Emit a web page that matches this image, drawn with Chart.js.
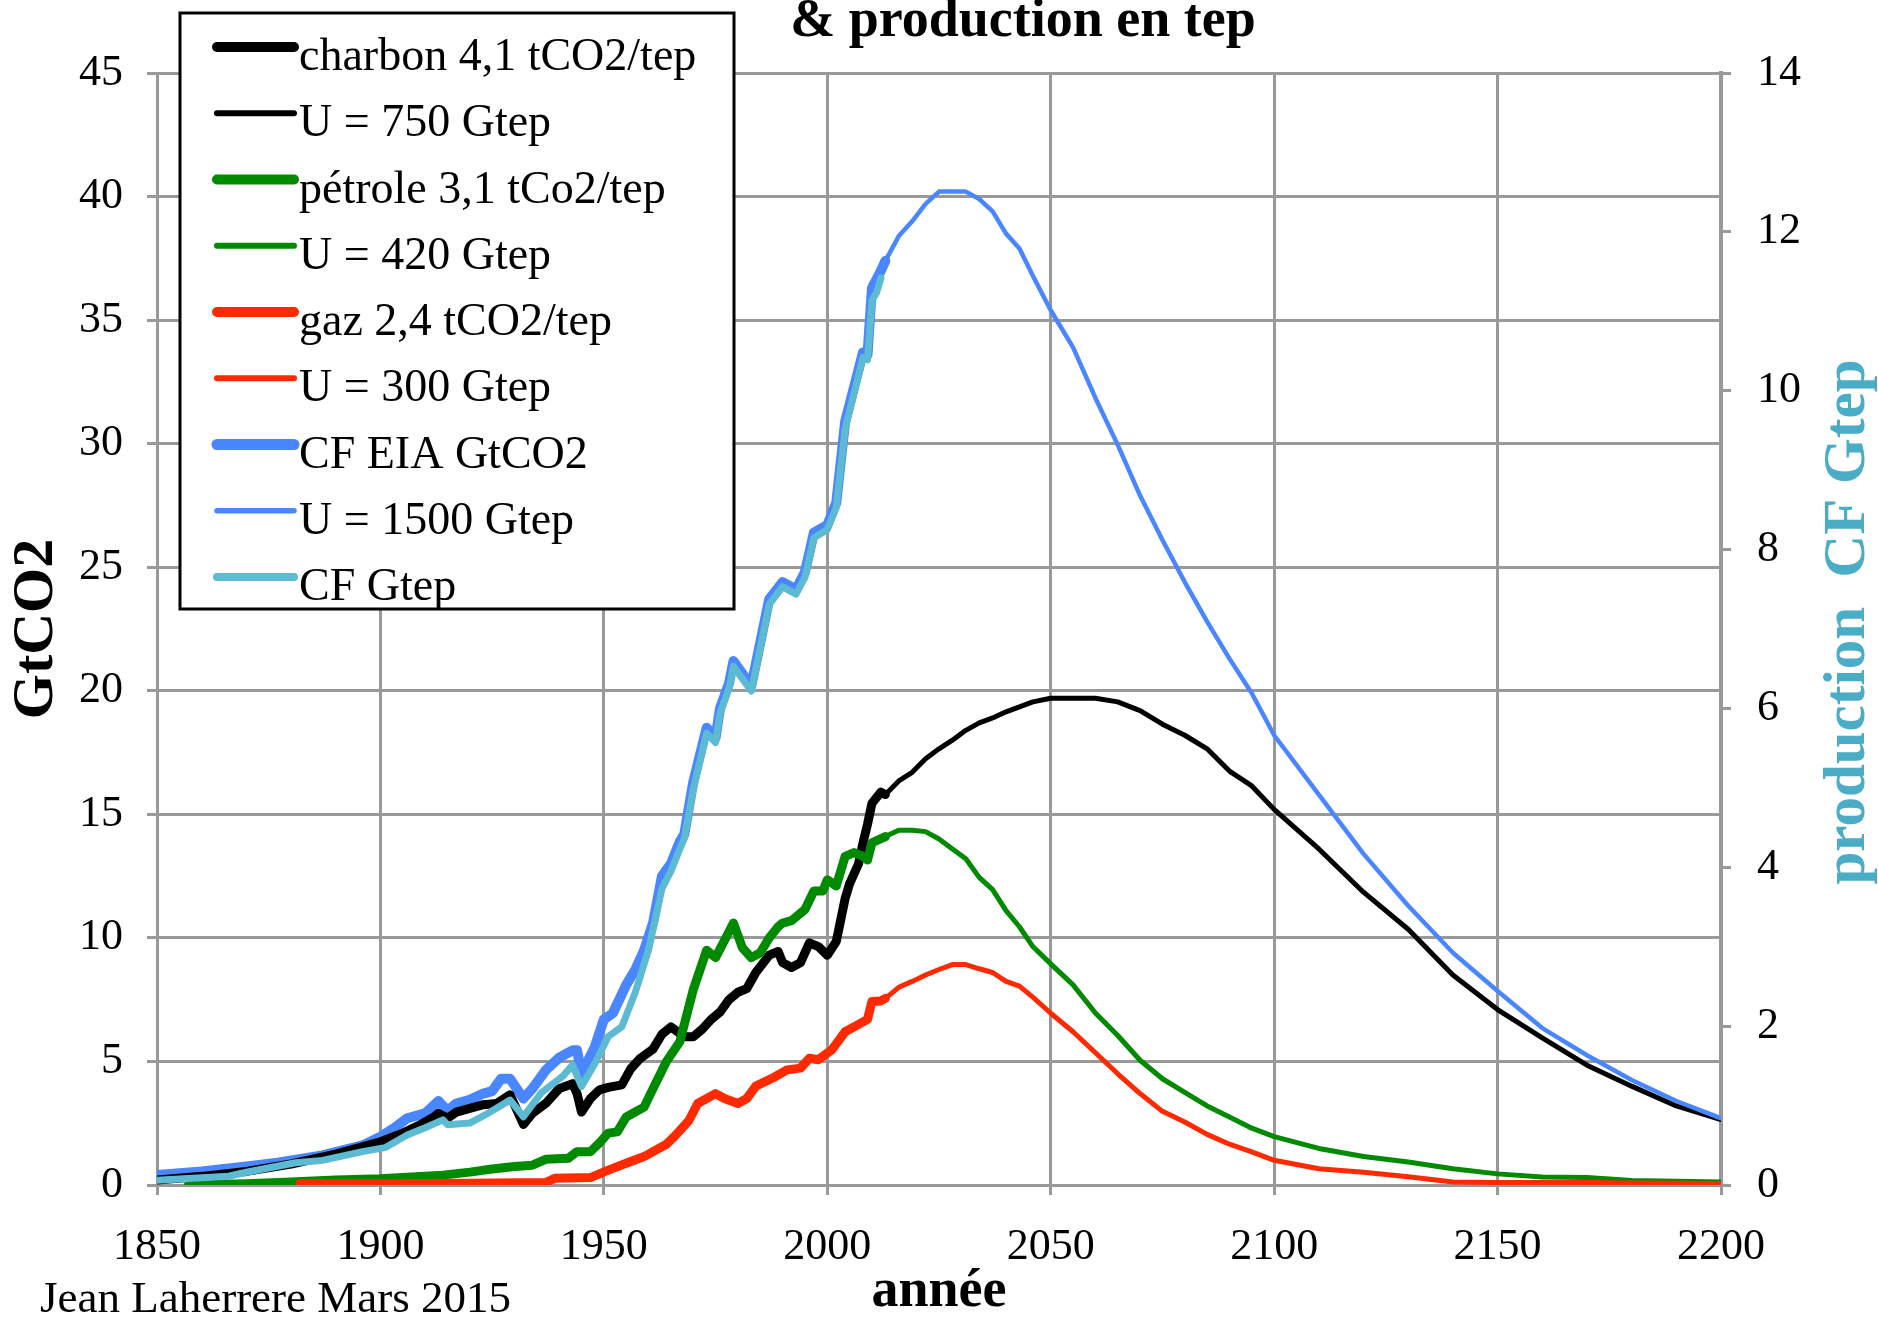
<!DOCTYPE html>
<html>
<head>
<meta charset="utf-8">
<script src="https://cdn.jsdelivr.net/npm/chart.js@4.4.1/dist/chart.umd.min.js"></script>
<style>
  html, body { margin: 0; padding: 0; background: #fff; }
  #wrap { width: 1878px; height: 1319px; }
</style>
</head>
<body>
<div id="wrap"><canvas id="mycanvas" width="1878" height="1319"></canvas></div>
<script>
// values (GtCO2 on the left axis, Gtep on the right one)
var coalYears  = [1850,1860,1870,1880,1890,1900,1905,1909,1912,1913,1915,1917,1920,1923,1926,1929,1932,1934,1937,1940,1943,1944,1945,1947,1949,1951,1954,1956,1958,1961,1963,1965,1968,1970,1972,1974,1976,1978,1980,1982,1984,1987,1989,1990,1992,1994,1996,1998,2000,2002,2004,2005,2007,2008,2009,2010,2012,2013];
var coalValues = [0.2,0.35,0.55,0.85,1.25,1.75,2.1,2.45,2.75,2.9,2.7,2.95,3.1,3.25,3.3,3.65,2.45,2.9,3.3,3.9,4.1,3.7,2.95,3.5,3.85,3.95,4.05,4.7,5.1,5.5,6.1,6.4,6.0,6.0,6.3,6.7,7.0,7.5,7.8,7.95,8.6,9.3,9.45,9.0,8.8,9.0,9.8,9.65,9.3,9.85,11.6,12.2,13.0,13.85,14.6,15.45,15.9,15.8];

var oilYears  = [1857,1870,1880,1890,1900,1910,1914,1920,1925,1930,1934,1937,1942,1944,1947,1949,1951,1953,1955,1959,1961,1964,1967,1970,1973,1975,1977,1979,1981,1983,1985,1987,1989,1990,1992,1995,1997,1999,2000,2002,2004,2006,2008,2009,2010,2013];
var oilValues = [0.0,0.05,0.12,0.2,0.25,0.35,0.4,0.52,0.65,0.75,0.8,1.04,1.08,1.35,1.35,1.7,2.1,2.15,2.75,3.15,3.9,5.0,5.8,7.9,9.5,9.2,9.9,10.6,9.6,9.2,9.4,10.0,10.45,10.6,10.7,11.15,11.9,11.9,12.35,12.1,13.3,13.45,13.3,13.15,13.85,14.1];

var gasYears  = [1882,1900,1920,1937,1939,1947,1951,1955,1959,1964,1966,1969,1971,1975,1977,1980,1982,1984,1988,1991,1994,1996,1998,2001,2004,2007,2009,2010,2012,2013];
var gasValues = [0.05,0.05,0.07,0.1,0.27,0.3,0.6,0.88,1.15,1.65,2.0,2.6,3.3,3.7,3.5,3.3,3.5,4.0,4.35,4.66,4.73,5.13,5.07,5.47,6.2,6.5,6.7,7.43,7.45,7.55];

var eiaYears  = [1850,1860,1870,1877,1887,1896,1900,1903,1906,1910,1913,1915,1917,1920,1923,1925,1927,1929,1932,1934,1937,1940,1943,1944,1945,1948,1950,1952,1955,1957,1959,1961,1963,1965,1967,1968,1970,1973,1975,1976,1978,1979,1983,1987,1990,1993,1995,1997,2000,2002,2004,2005,2008,2009,2010,2012,2013];
var eiaValues = [0.4,0.55,0.75,0.9,1.2,1.6,1.95,2.3,2.7,2.9,3.4,3.0,3.3,3.45,3.7,3.8,4.3,4.3,3.5,3.9,4.65,5.15,5.45,5.45,4.5,5.6,6.7,6.95,8.1,8.7,9.5,10.6,12.5,13.0,13.9,14.2,16.3,18.5,18.1,19.3,20.3,21.2,20.2,23.7,24.4,24.1,24.8,26.4,26.7,27.6,30.9,31.6,33.7,33.6,36.3,37.0,37.4];

// production, Gtep (right axis)
var cfYears  = [1850,1860,1866,1870,1881,1887,1896,1901,1906,1910,1914,1915,1920,1924,1927,1929,1932,1936,1941,1943,1945,1948,1951,1954,1957,1960,1963,1965,1967,1968,1970,1973,1975,1976,1978,1979,1983,1987,1990,1993,1995,1997,2000,2002,2004,2005,2008,2009,2010,2011,2012];
var cfValues = [0.06,0.09,0.11,0.16,0.28,0.31,0.42,0.47,0.63,0.72,0.82,0.76,0.78,0.90,1.00,1.07,0.86,1.16,1.38,1.51,1.24,1.53,1.87,1.99,2.42,2.96,3.73,3.95,4.23,4.36,4.98,5.69,5.57,5.94,6.25,6.53,6.22,7.31,7.53,7.44,7.65,8.15,8.25,8.53,9.52,9.74,10.42,10.39,11.14,11.23,11.42];

// forecasts
var futureYears = [2013,2016,2019,2022,2025,2028,2031,2034,2037,2040,2043,2046,2050,2055,2060,2065,2070,2075,2080,2085,2090,2095,2100,2110,2120,2130,2140,2150,2160,2170,2180,2190,2200];
var coalU750   = [15.8,16.35,16.7,17.25,17.65,18.0,18.4,18.7,18.9,19.15,19.35,19.55,19.7,19.7,19.7,19.55,19.2,18.65,18.2,17.65,16.75,16.15,15.2,13.6,11.85,10.35,8.5,7.1,5.95,4.85,4.0,3.2,2.65];
var oilU420    = [14.1,14.36,14.36,14.3,14.0,13.6,13.2,12.45,11.95,11.1,10.45,9.65,8.95,8.1,6.96,6.05,5.05,4.3,3.75,3.2,2.75,2.3,1.96,1.48,1.15,0.93,0.66,0.45,0.32,0.3,0.18,0.15,0.12];
var gasU300    = [7.55,8.0,8.24,8.5,8.72,8.92,8.92,8.75,8.6,8.24,8.05,7.6,6.95,6.2,5.35,4.5,3.7,2.98,2.55,2.05,1.65,1.34,1.0,0.66,0.52,0.33,0.12,0.1,0.1,0.1,0.08,0.07,0.06];
var totalU1500 = [37.4,38.4,39.0,39.7,40.2,40.2,40.2,39.9,39.4,38.5,37.9,36.8,35.4,33.9,31.85,29.95,27.9,26.1,24.4,22.8,21.3,19.9,18.2,15.8,13.4,11.3,9.4,7.85,6.35,5.25,4.25,3.4,2.7];

var serif = "'Liberation Serif', 'Times New Roman', serif";

function pts(xs, ys) {
	var out = [];
	for (var i = 0; i < xs.length; i++) out.push({x: xs[i], y: ys[i]});
	return out;
}

function line(label, data, color, width, axis, order) {
	return {
		label: label,
		data: data,
		borderColor: color,
		backgroundColor: color,
		borderWidth: width,
		yAxisID: axis,
		order: order,
		pointRadius: 0,
		fill: false,
		tension: 0,
		borderJoinStyle: 'round',
		borderCapStyle: 'round'
	};
}

var datasets = [
	line('charbon 4,1 tCO2/tep', pts(coalYears, coalValues), '#000000', 9, 'y', 6),
	line('U = 750 Gtep', pts(futureYears, coalU750), '#000000', 5, 'y', 7),
	line('pétrole 3,1 tCo2/tep', pts(oilYears, oilValues), '#008a00', 9, 'y', 4),
	line('U = 420 Gtep', pts(futureYears, oilU420), '#008a00', 5, 'y', 5),
	line('gaz 2,4 tCO2/tep', pts(gasYears, gasValues), '#ff2a00', 9, 'y', 2),
	line('U = 300 Gtep', pts(futureYears, gasU300), '#ff2a00', 5, 'y', 3),
	line('CF EIA GtCO2', pts(eiaYears, eiaValues), '#4a86ff', 10, 'y', 8),
	line('U = 1500 Gtep', pts(futureYears, totalU1500), '#4a86ff', 4.5, 'y', 1),
	line('CF Gtep', pts(cfYears, cfValues), '#5dbad3', 7, 'y2', 0)
];

// legend box, main title, right axis title and signature
var extras = {
	id: 'extras',
	afterDraw: function(chart) {
		var ctx = chart.ctx;
		ctx.save();

		ctx.fillStyle = '#fff';
		ctx.fillRect(180, 13, 554, 596);
		ctx.lineWidth = 3;
		ctx.strokeStyle = '#000';
		ctx.strokeRect(180, 13, 554, 596);

		ctx.font = '46px ' + serif;
		ctx.textAlign = 'left';
		ctx.textBaseline = 'alphabetic';
		var ds = chart.data.datasets;
		for (var i = 0; i < ds.length; i++) {
			var y = 47 + i * 66.25;
			ctx.beginPath();
			ctx.lineCap = 'round';
			ctx.lineWidth = ds[i].borderWidth + 1;
			ctx.strokeStyle = ds[i].borderColor;
			ctx.moveTo(217, y);
			ctx.lineTo(294, y);
			ctx.stroke();
			ctx.fillStyle = '#000';
			ctx.fillText(ds[i].label, 299, y + 23);
		}

		ctx.fillStyle = '#000';
		ctx.textAlign = 'center';
		ctx.font = 'bold 54px ' + serif;
		ctx.fillText('& production en tep', 1023, 36);

		ctx.textAlign = 'left';
		ctx.font = '45px ' + serif;
		ctx.fillText('Jean Laherrere Mars 2015', 40, 1312);

		ctx.translate(1849, 622);
		ctx.rotate(-Math.PI / 2);
		ctx.textAlign = 'center';
		ctx.textBaseline = 'middle';
		ctx.fillStyle = '#4bacc6';
		ctx.font = 'bold 59px ' + serif;
		ctx.fillText('production  CF Gtep', 0, 0);
		ctx.restore();
	}
};

var ctx = document.getElementById('mycanvas');

var chart = new Chart(ctx, {
	type: 'line',
	data: {datasets: datasets},
	plugins: [extras],
	options: {
		responsive: false,
		animation: false,
		layout: {padding: {top: 73, left: 0, right: 0, bottom: 0}},
		plugins: {
			legend: {display: false},
			tooltip: {enabled: false},
			title: {display: false}
		},
		scales: {
			x: {
				type: 'linear',
				min: 1850,
				max: 2200,
				afterFit: function(s) { s.height = 134; },
				ticks: {
					stepSize: 50,
					color: '#000',
					font: {family: serif, size: 44},
					padding: 26,
					maxRotation: 0,
					callback: function(v) { return String(v); }
				},
				grid: {color: '#999', lineWidth: 3, tickLength: 10},
				border: {color: '#999', width: 3},
				title: {
					display: true,
					text: 'année',
					color: '#000',
					font: {family: serif, size: 54, weight: 'bold'},
					padding: {top: 0, bottom: -5}
				}
			},
			y: {
				position: 'left',
				min: 0,
				max: 45,
				afterFit: function(s) { s.width = 157; },
				ticks: {
					stepSize: 5,
					color: '#000',
					font: {family: serif, size: 44},
					padding: 24
				},
				grid: {color: '#999', lineWidth: 3, tickLength: 10},
				border: {color: '#999', width: 3},
				title: {
					display: true,
					text: 'GtCO2',
					color: '#000',
					font: {family: serif, size: 58, weight: 'bold'},
					padding: {top: 2, bottom: 0}
				}
			},
			y2: {
				position: 'right',
				min: 0,
				max: 14,
				afterFit: function(s) { s.width = 157; },
				ticks: {
					stepSize: 2,
					color: '#000',
					font: {family: serif, size: 44},
					padding: 26
				},
				grid: {drawOnChartArea: false, color: '#999', lineWidth: 3, tickLength: 10},
				border: {color: '#999', width: 4}
			}
		}
	}
});
</script>
</body>
</html>
